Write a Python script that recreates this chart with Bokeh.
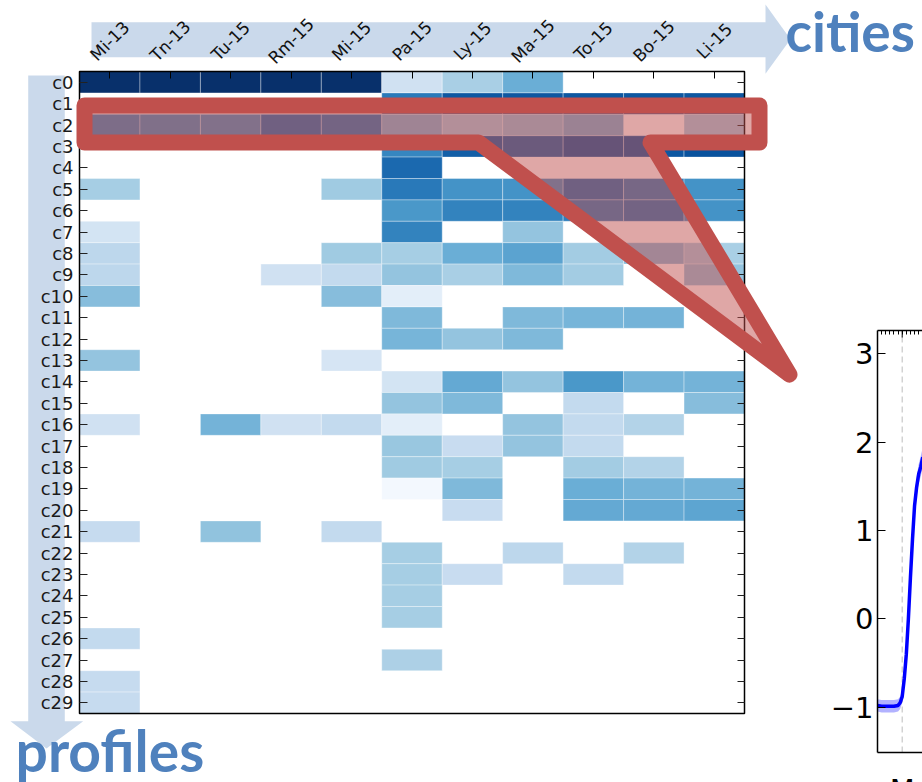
from bokeh.plotting import figure
from bokeh.models import ColumnDataSource, Range1d, LinearAxis, FixedTicker
from bokeh.palettes import Blues256
from bokeh.transform import linear_cmap
from bokeh.core.properties import value
from bokeh.embed import file_html
from bokeh.resources import INLINE

# ---------------- data ----------------
cities = ["Mi-13", "Tn-13", "Tu-15", "Rm-15", "Mi-15", "Pa-15", "Ly-15", "Ma-15", "To-15", "Bo-15", "Li-15"]
profiles = ["c%d" % i for i in range(30)]

# intensity per profile (c0 .. c29) for each city; 0 = empty cell
mi13 = [1.0, 0, 0.65, 0, 0, 0.35, 0, 0.18, 0.28, 0.28, 0.43, 0, 0, 0.40, 0, 0, 0.20, 0, 0, 0, 0, 0.25, 0, 0, 0, 0, 0.26, 0, 0.25, 0.25]
tn13 = [1.0, 0, 0.63, 0, 0, 0, 0, 0, 0, 0, 0, 0, 0, 0, 0, 0, 0, 0, 0, 0, 0, 0, 0, 0, 0, 0, 0, 0, 0, 0]
tu15 = [1.0, 0, 0.62, 0, 0, 0, 0, 0, 0, 0, 0, 0, 0, 0, 0, 0, 0.48, 0, 0, 0, 0, 0.41, 0, 0, 0, 0, 0, 0, 0, 0]
rm15 = [1.0, 0, 0.75, 0, 0, 0, 0, 0, 0, 0.20, 0, 0, 0, 0, 0, 0, 0.20, 0, 0, 0, 0, 0, 0, 0, 0, 0, 0, 0, 0, 0]
mi15 = [1.0, 0, 0.72, 0, 0, 0.37, 0, 0, 0.37, 0.26, 0.43, 0, 0, 0.17, 0, 0, 0.26, 0, 0, 0, 0, 0.26, 0, 0, 0, 0, 0, 0, 0, 0]
pa15 = [0.20, 0.72, 0.45, 0.67, 0.78, 0.72, 0.60, 0.68, 0.35, 0.40, 0.10, 0.45, 0.47, 0, 0.18, 0.40, 0.10, 0.39, 0.37, 0.02, 0, 0, 0.35, 0.35, 0.35, 0.35, 0, 0.33, 0, 0]
ly15 = [0.34, 0.85, 0.35, 0.82, 0, 0.62, 0.68, 0, 0.50, 0.34, 0, 0, 0.40, 0, 0.52, 0.45, 0, 0.24, 0.35, 0.45, 0.24, 0, 0, 0.24, 0, 0, 0, 0, 0, 0]
ma15 = [0.50, 0.85, 0.40, 0.80, 0, 0.62, 0.68, 0.40, 0.55, 0.45, 0, 0.45, 0.45, 0, 0.40, 0, 0.40, 0.40, 0, 0, 0, 0, 0.28, 0, 0, 0, 0, 0, 0, 0]
to15 = [0, 0.85, 0.47, 0.85, 0, 0.75, 0.70, 0, 0.36, 0.36, 0, 0.47, 0, 0, 0.60, 0.26, 0.26, 0.26, 0.36, 0.50, 0.52, 0, 0, 0.26, 0, 0, 0, 0, 0, 0]
bo15 = [0, 0.85, 0, 0.85, 0, 0.70, 0.73, 0, 0.43, 0, 0, 0.48, 0, 0, 0.48, 0, 0.31, 0, 0.31, 0.48, 0.52, 0, 0.31, 0, 0, 0, 0, 0, 0, 0]
li15 = [0, 0.85, 0.35, 0.87, 0, 0.62, 0.62, 0, 0.34, 0.40, 0, 0, 0, 0, 0.48, 0.43, 0, 0, 0, 0.48, 0.54, 0, 0, 0, 0, 0, 0, 0, 0, 0]

# profile curve (hours relative to Monday 00:00)
hours = [-6, -5, -4, -3, -2, -1, -0.5, 0, 0.5, 1, 1.5, 2, 2.5, 3, 3.5, 4, 4.5, 5]
curve = [-0.98, -0.99, -0.99, -0.99, -0.99, -0.98, -0.95, -0.88, -0.68, -0.40, 0.00, 0.47, 0.90, 1.28, 1.49, 1.64, 1.72, 1.83]
curve_lo = [-1.05, -1.06, -1.06, -1.06, -1.06, -1.05, -1.02, -0.95, -0.76, -0.48, -0.09, 0.38, 0.80, 1.18, 1.38, 1.53, 1.61, 1.72]
curve_hi = [-0.91, -0.92, -0.92, -0.92, -0.92, -0.91, -0.88, -0.81, -0.60, -0.32, 0.09, 0.56, 1.00, 1.38, 1.60, 1.75, 1.84, 1.94]
y_ticks = [-1, 0, 1, 2, 3]
day_label = "M"

# ---------------- layout constants (page pixels, origin top-left) ----------------
W, H = 922, 782
FL, FT, FW, FH = 79, 71, 665, 642          # heat-map frame
NC, NR = len(cities), len(profiles)
CW, CH = FW / NC, FH / NR
ACCENT = "#4f81bd"
CALLOUT = "#c0504d"

LFL, LFT, LFB = 877, 330, 752               # curve panel frame left / top / bottom
X0, X1 = -6.0, 4.93                         # visible hours (cropped at page edge)
Y0, Y1 = -1.513, 3.264
LPX = (W - LFL) / (X1 - X0)
LPY = (LFB - LFT) / (Y1 - Y0)

f = figure(width=W, height=H, title=None, x_range=Range1d(0, W), y_range=Range1d(H, 0),
           x_axis_type=None, y_axis_type=None, min_border=0, toolbar_location=None, tools="",
           output_backend="svg")
f.outline_line_color = None
f.background_fill_color = "white"
f.border_fill_color = "white"
f.extra_x_ranges = {
    "hx": Range1d((0 - FL) / CW, (W - FL) / CW),
    "lx": Range1d(X0 + (0 - LFL) / LPX, X0 + (W - LFL) / LPX),
}
f.extra_y_ranges = {
    "hy": Range1d((H - FT) / CH, (0 - FT) / CH),
    "ly": Range1d(Y1 - (H - LFT) / LPY, Y1 - (0 - LFT) / LPY),
}
H_R = dict(x_range_name="hx", y_range_name="hy")
L_R = dict(x_range_name="lx", y_range_name="ly")

# ---------------- light arrows and titles ----------------
top_arrow = [(91, 21.7), (765, 21.7), (765, 4), (790, 38.7), (765, 73.3), (765, 56.7), (91, 56.7)]
side_arrow = [(27.7, 75), (64.3, 75), (64.3, 720.7), (82.7, 720.7), (46, 748), (10, 720.7), (27.7, 720.7)]
for pts in (top_arrow, side_arrow):
    f.patch([a for a, _ in pts], [b for _, b in pts], fill_color=ACCENT, fill_alpha=0.3, line_color=None)

f.text(x=[i + 0.5 for i in range(NC)], y=[(40.5 - FT) / CH] * NC, text=cities,
       angle=45, angle_units="deg", text_align="center", text_baseline="middle",
       text_font=value("DejaVu Sans"), text_font_size="17px", text_color="#111111", **H_R)
f.text(x=[785], y=[30.5], text=["cities"], text_font=value("Lato"), text_font_style="bold",
       text_font_size="55px", text_color=ACCENT, text_baseline="alphabetic", text_align="left")
f.text(x=[15], y=[749.5], text=["profiles"], text_font=value("Lato"), text_font_style="bold",
       text_font_size="57px", text_color=ACCENT, text_baseline="alphabetic", text_align="left")

# ---------------- heat map ----------------
columns = [mi13, tn13, tu15, rm15, mi15, pa15, ly15, ma15, to15, bo15, li15]
cx, cy, cv, cn, pn = [], [], [], [], []
for i, (city, col) in enumerate(zip(cities, columns)):
    for r, (prof, val) in enumerate(zip(profiles, col)):
        if val > 0:
            cx.append(i + 0.5)
            cy.append(r + 0.5)
            cv.append(val)
            cn.append(city)
            pn.append(prof)
src = ColumnDataSource(dict(x=cx, y=cy, value=cv, city=cn, profile=pn))
f.rect(x="x", y="y", width=1, height=1, source=src,
       fill_color=linear_cmap("value", list(Blues256[::-1]), 0, 1),
       line_color="white", line_alpha=0.35, line_width=1, **H_R)
f.quad(left=[0], right=[NC], top=[0], bottom=[NR], fill_color=None, line_color="black",
       line_width=1.5, **H_R)

row_ticks = [r + 0.5 for r in range(NR)]
col_ticks = [i + 0.5 for i in range(NC)]
f.add_layout(LinearAxis(fixed_location=0, bounds=(0, NR), ticker=FixedTicker(ticks=row_ticks),
                        major_label_overrides={t: s for t, s in zip(row_ticks, profiles)},
                        major_tick_in=8, major_tick_out=0, axis_line_color=None,
                        major_tick_line_color="#222222", major_label_text_font="DejaVu Sans",
                        major_label_text_font_size="18px", major_label_text_color="#1a1a1a",
                        major_label_standoff=6, **H_R), "left")
f.add_layout(LinearAxis(fixed_location=0, bounds=(0, NC), ticker=FixedTicker(ticks=[], minor_ticks=col_ticks),
                        minor_tick_in=7, minor_tick_out=0, minor_tick_line_color="black",
                        axis_line_color=None, **H_R), "above")
f.add_layout(LinearAxis(fixed_location=NC, bounds=(0, NR), ticker=FixedTicker(ticks=[], minor_ticks=row_ticks),
                        minor_tick_in=7, minor_tick_out=0, minor_tick_line_color="#222222",
                        axis_line_color=None, **H_R), "right")

# ---------------- profile curve (cropped at the page edge) ----------------
f.segment(x0=[0], y0=[Y0], x1=[0], y1=[Y1], line_color="#c8c8c8", line_dash="6 4", line_width=1.2, **L_R)
f.varea(x=hours, y1=curve_lo, y2=curve_hi, fill_color="#0000ff", fill_alpha=0.3, **L_R)
f.line(hours, curve, line_color="#0000ff", line_width=3.5, **L_R)
f.segment(x0=[0], y0=[Y1], x1=[0], y1=[Y1 - 7 / LPY], line_color="black", line_width=1, **L_R)

f.add_layout(LinearAxis(fixed_location=X0, bounds=(Y0, Y1), ticker=FixedTicker(ticks=y_ticks),
                        major_label_overrides={-1: "\u22121"}, major_tick_in=8, major_tick_out=0,
                        axis_line_color="black", axis_line_width=1.5,
                        major_label_text_font="DejaVu Sans", major_label_text_font_size="29px",
                        major_label_text_color="black", major_label_standoff=4, **L_R), "left")
f.add_layout(LinearAxis(fixed_location=Y1, bounds=(X0, X1),
                        ticker=FixedTicker(ticks=[], minor_ticks=[h for h in range(-5, 5)]),
                        minor_tick_in=4, minor_tick_out=0, minor_tick_line_color="black",
                        axis_line_color="black", axis_line_width=1.5, **L_R), "above")
f.add_layout(LinearAxis(fixed_location=Y0, bounds=(X0, X1), ticker=FixedTicker(ticks=[0]),
                        major_label_overrides={0: day_label}, major_tick_in=0, major_tick_out=0,
                        axis_line_color="black", axis_line_width=1.5,
                        major_label_text_font="DejaVu Sans", major_label_text_font_size="29px",
                        major_label_text_color="black", major_label_standoff=20, **L_R), "below")

# ---------------- call-out around profile c2 pointing to the curve ----------------
callout = [(84, 105), (759, 105), (759, 142), (650, 142), (789, 374), (478, 142), (84, 142)]
f.patch([a for a, _ in callout], [b for _, b in callout], fill_color=CALLOUT, fill_alpha=0.5,
        line_color=CALLOUT, line_width=16, line_join="round", level="overlay")

open("out.html", "w").write(file_html(f, INLINE))
